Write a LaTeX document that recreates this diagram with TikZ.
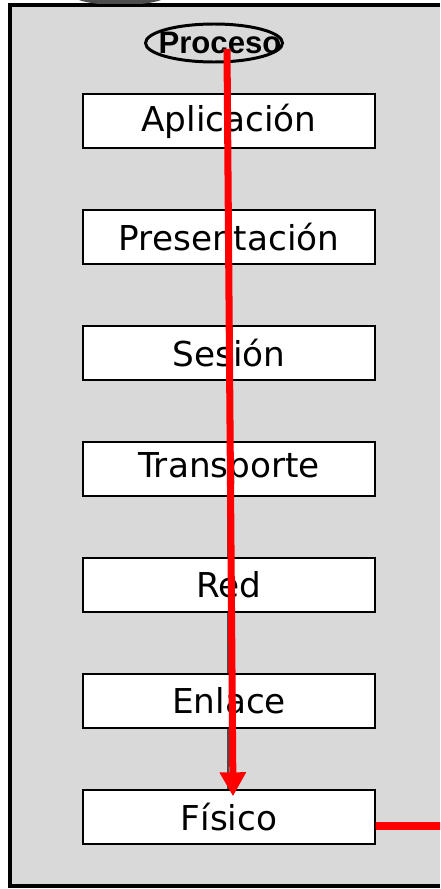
\documentclass[tikz,border=0pt]{standalone}
\usepackage{fontspec}
\setmainfont{DejaVu Sans}
\newfontfamily\procfont{Liberation Sans}
\usetikzlibrary{arrows.meta,backgrounds}

\definecolor{panelgray}{HTML}{D9D9D9}
\tikzstyle{layer} = [rectangle, minimum width=5.84cm, minimum height=1.08cm, inner sep=0pt, text centered, draw=black, thick, fill=white, font=\fontsize{19.5}{22}\selectfont]
\tikzstyle{proc} = [inner sep=0pt, font=\procfont\bfseries\fontsize{17.7}{20}\selectfont]
\tikzstyle{ring} = [draw=black, line width=1.7pt]
\tikzstyle{flow} = [red, line width=4pt, -{Triangle[length=0.48cm, width=0.5cm]}]

\begin{document}
\begin{tikzpicture}[node distance=2.32cm]
\useasboundingbox (0,0) rectangle (8.8,-17.78);

\node (proceso) [proc] at (4.4,-0.86) {Proceso};
\node (aplic) [layer] at (4.58,-2.42) {Aplicación};
\node (pres) [layer, below of=aplic] {Presentación};
\node (sesion) [layer, below of=pres] {Sesión};
\node (transp) [layer, below of=sesion] {Transporte};
\node (red) [layer, below of=transp] {Red};
\node (enlace) [layer, below of=red] {Enlace};
\node (fisico) [layer, below of=enlace] {Físico};

% panel and the thin line go behind the boxes
\begin{pgfonlayer}{background}
\fill[panelgray] (0.2,-0.1) rectangle (8.8,-17.72);
\draw[line width=1.8pt] (8.8,-0.1) -- (0.2,-0.1) -- (0.2,-17.72) -- (8.8,-17.72);
\begin{scope}
\clip (0,0) rectangle (8.8,-0.07);
\fill[black!70] (2.4,0.1) ellipse (0.95cm and 0.2cm);
\end{scope}
\draw[thick] ([xshift=0.16cm]proceso.south) -- ([xshift=-0.02cm]fisico.north);
\end{pgfonlayer}

\draw[ring] ([xshift=-0.12cm]proceso.center) ellipse (1.37cm and 0.38cm);

\coordinate (start) at (4.54,-0.98);
\coordinate (out) at (8.8,-16.52);

\draw [flow] (start) -- ([xshift=0.08cm, yshift=-0.14cm]fisico.north);
\draw [red, line width=4.4pt] ([yshift=-0.18cm]fisico.east) -- (out);
\end{tikzpicture}
\end{document}
